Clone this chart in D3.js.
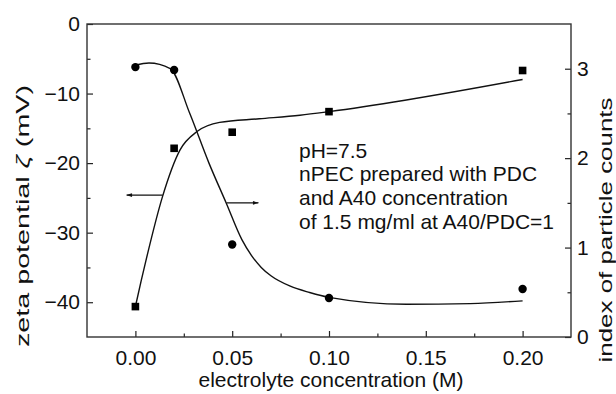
<!DOCTYPE html>
<html>
<head>
<meta charset="utf-8">
<script src="https://cdn.jsdelivr.net/npm/d3@7"></script>
<style>
  body { margin: 0; background: #fff; }
  svg text { font-family: "Liberation Sans", Arial, sans-serif; fill: #111; }
</style>
</head>
<body>
<div id="container"></div>
<script>
// measured points
const conc = [0, 0.02, 0.05, 0.10, 0.20];
const zeta = [-6.2, -6.6, -31.7, -39.4, -38.1];
const counts = [0.34, 2.11, 2.29, 2.52, 2.98];

// fitted curves
const zetaFitX = [0, 0.007, 0.018, 0.028, 0.038, 0.047, 0.055, 0.06, 0.065, 0.07, 0.08, 0.09, 0.1, 0.14, 0.173, 0.2];
const zetaFitY = [-5.9, -5.6, -6.4, -12.8, -20.0, -25.8, -31.0, -33.3, -35.0, -36.2, -37.7, -38.6, -39.3, -40.3, -40.2, -39.8];
const countFitX = [0, 0.003, 0.0055, 0.014, 0.023, 0.032, 0.0435, 0.064, 0.085, 0.1, 0.2];
const countFitY = [0.34, 0.63, 0.86, 1.57, 2.09, 2.30, 2.40, 2.44, 2.48, 2.52, 2.88];

const xTicks = [0, 0.05, 0.10, 0.15, 0.20];
const yTicks = [0, -10, -20, -30, -40];
const y2Ticks = [0, 1, 2, 3];

const noteLines = ["pH=7.5", "nPEC prepared with PDC", "and A40 concentration", "of 1.5 mg/ml at A40/PDC=1"];

const W = 616, H = 394;
const m = { left: 87, right: 45, top: 24, bottom: 57 };

const svg = d3.select("#container").append("svg")
  .attr("width", W).attr("height", H);

const x = d3.scaleLinear().domain([-0.025, 0.225]).range([m.left, W - m.right]);
const y = d3.scaleLinear().domain([-45, 0]).range([H - m.bottom, m.top]);
const y2 = d3.scaleLinear().domain([0, 3.5]).range([H - m.bottom, m.top]);

const fmtMinus = d => d < 0 ? "\u2212" + Math.abs(d) : d;

// axes, ticks pointing inward
function minor(scale, vals, axisFn, len) {
  return axisFn(scale).tickValues(vals).tickSize(len).tickFormat("");
}

const gx = svg.append("g").attr("transform", `translate(0,${H - m.bottom})`);
gx.call(d3.axisBottom(x).tickValues(xTicks).tickSize(-6).tickPadding(13)
  .tickFormat(d3.format(".2f")));
gx.append("g").call(minor(x, [0.025, 0.075, 0.125, 0.175], d3.axisBottom, -3.5));

const gy = svg.append("g").attr("transform", `translate(${m.left},0)`);
gy.call(d3.axisLeft(y).tickValues(yTicks).tickSize(-6).tickPadding(7).tickFormat(fmtMinus));
gy.append("g").call(minor(y, [-5, -15, -25, -35], d3.axisLeft, -3.5));

const gy2 = svg.append("g").attr("transform", `translate(${W - m.right},0)`);
gy2.call(d3.axisRight(y2).tickValues(y2Ticks).tickSize(-6).tickPadding(6).tickFormat(d3.format("d")));
gy2.append("g").call(minor(y2, [0.5, 1.5, 2.5], d3.axisRight, -3.5));

svg.selectAll(".domain").remove();
svg.selectAll(".tick line").attr("stroke", "#222").attr("stroke-width", 1.2);
svg.selectAll(".tick text").attr("font-size", 21)
  .attr("font-family", "'Liberation Sans', Arial, sans-serif").attr("fill", "#111");

// frame
svg.append("rect")
  .attr("x", m.left).attr("y", m.top)
  .attr("width", W - m.left - m.right).attr("height", H - m.top - m.bottom)
  .attr("fill", "none").attr("stroke", "#333").attr("stroke-width", 1.4);

// axis titles
svg.append("text")
  .attr("x", (m.left + W - m.right) / 2 + 2).attr("y", 387)
  .attr("text-anchor", "middle").attr("font-size", 21)
  .text("electrolyte concentration (M)");

const lt = svg.append("text")
  .attr("transform", "translate(29,216) rotate(-90)")
  .attr("text-anchor", "middle").attr("font-size", 19)
  .attr("textLength", 262).attr("lengthAdjust", "spacingAndGlyphs");
lt.append("tspan").text("zeta potential ");
lt.append("tspan").attr("font-style", "italic").text("\u03B6");
lt.append("tspan").text(" (mV)");

svg.append("text")
  .attr("transform", "translate(612,230) rotate(-90)")
  .attr("text-anchor", "middle").attr("font-size", 19)
  .attr("textLength", 265).attr("lengthAdjust", "spacingAndGlyphs")
  .text("index of particle counts");

// curves
const zetaLine = d3.line().x(d => x(d[0])).y(d => y(d[1])).curve(d3.curveMonotoneX);
const countLine = d3.line().x(d => x(d[0])).y(d => y2(d[1])).curve(d3.curveMonotoneX);

svg.append("path")
  .attr("d", zetaLine(d3.zip(zetaFitX, zetaFitY)))
  .attr("fill", "none").attr("stroke", "#111").attr("stroke-width", 1.4);
svg.append("path")
  .attr("d", countLine(d3.zip(countFitX, countFitY)))
  .attr("fill", "none").attr("stroke", "#111").attr("stroke-width", 1.4);

// markers
svg.selectAll("circle.z").data(d3.zip(conc, zeta)).enter()
  .append("circle").attr("class", "z")
  .attr("cx", d => x(d[0])).attr("cy", d => y(d[1])).attr("r", 4.2)
  .attr("fill", "#000");

svg.selectAll("rect.c").data(d3.zip(conc, counts)).enter()
  .append("rect").attr("class", "c")
  .attr("x", d => x(d[0]) - 3.8).attr("y", d => y2(d[1]) - 3.8)
  .attr("width", 7.6).attr("height", 7.6).attr("fill", "#000");

// arrows
const defs = svg.append("defs");
defs.append("marker").attr("id", "ah")
  .attr("viewBox", "0 0 10 10").attr("refX", 9).attr("refY", 5)
  .attr("markerWidth", 7).attr("markerHeight", 5).attr("orient", "auto")
  .append("path").attr("d", "M0,2 L10,5 L0,8 z").attr("fill", "#111");

svg.append("line")
  .attr("x1", x(0.0141)).attr("x2", x(-0.0045))
  .attr("y1", y(-24.6)).attr("y2", y(-24.6))
  .attr("stroke", "#111").attr("stroke-width", 1.2).attr("marker-end", "url(#ah)");
svg.append("line")
  .attr("x1", x(0.047)).attr("x2", x(0.0635))
  .attr("y1", y2(1.5)).attr("y2", y2(1.5))
  .attr("stroke", "#111").attr("stroke-width", 1.2).attr("marker-end", "url(#ah)");

// note
svg.append("g").selectAll("text").data(noteLines).enter()
  .append("text")
  .attr("x", 299).attr("y", (d, i) => 157.5 + i * 23.7)
  .attr("font-size", 21)
  .text(d => d);
</script>
</body>
</html>
